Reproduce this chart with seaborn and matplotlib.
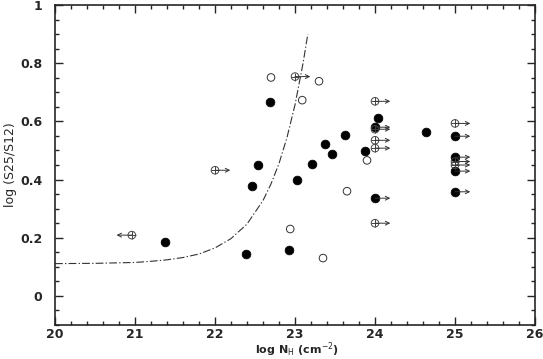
import numpy as np
import pandas as pd
from matplotlib import pyplot as plt
from matplotlib.ticker import MultipleLocator
import seaborn as sns

sns.set_style("ticks")
plt.rcParams['font.family'] = ['DejaVu Sans']

# detected sources (filled)
filled_x = [21.38, 22.39, 22.46, 22.54, 22.69, 22.93, 23.03, 23.21, 23.38, 23.46, 23.63, 23.88, 24.04, 24.64]
filled_y = [0.185, 0.144, 0.377, 0.450, 0.666, 0.158, 0.398, 0.453, 0.521, 0.487, 0.552, 0.497, 0.610, 0.563]

# filled, lower limits on N_H
filled_lim_x = [24.0, 24.0, 25.0, 25.0, 25.0, 25.0]
filled_lim_y = [0.580, 0.336, 0.549, 0.477, 0.429, 0.358]

# open circles
open_x = [22.70, 22.94, 23.09, 23.30, 23.35, 23.65, 23.90]
open_y = [0.751, 0.230, 0.673, 0.738, 0.130, 0.360, 0.466]

# crossed circles, lower limits
plus_x = [22.0, 23.0, 24.0, 24.0, 24.0, 24.0, 24.0, 25.0, 25.0, 25.0]
plus_y = [0.432, 0.754, 0.669, 0.573, 0.535, 0.508, 0.250, 0.593, 0.462, 0.450]

# crossed circle, upper limit
plus_up_x = [20.96]
plus_up_y = [0.209]

# model curve
curve_x = [20.0, 20.5, 21.0, 21.2, 21.4, 21.6, 21.8, 22.0, 22.2, 22.4, 22.6, 22.7, 22.8, 22.9, 23.0, 23.1, 23.16]
curve_y = [0.111, 0.112, 0.115, 0.119, 0.124, 0.132, 0.144, 0.165, 0.197, 0.247, 0.328, 0.385, 0.455, 0.545, 0.657, 0.799, 0.900]

fig = plt.figure(figsize=(5.43, 3.59), dpi=100)
ax = fig.add_axes([0.1013, 0.0947, 0.8840, 0.8913])

curve = pd.DataFrame({'x': curve_x, 'y': curve_y})
sns.lineplot(data=curve, x='x', y='y', ax=ax, color='#333333', lw=0.8,
             dashes=False, sort=False)
ax.lines[-1].set_dashes([7, 2, 1.2, 2])

fx = filled_x + filled_lim_x
fy = filled_y + filled_lim_y
sns.scatterplot(x=fx, y=fy, ax=ax, color='black', s=40, edgecolor='black', linewidth=0.5, zorder=3)

sns.scatterplot(x=open_x, y=open_y, ax=ax, facecolor='none', edgecolor='#333333', s=30, linewidth=0.7, zorder=3)

px = plus_x + plus_up_x
py = plus_y + plus_up_y
sns.scatterplot(x=px, y=py, ax=ax, facecolor='none', edgecolor='#444444', s=30, linewidth=0.7, zorder=3)
sns.scatterplot(x=px, y=py, ax=ax, color='#444444', marker='+', s=30, linewidth=0.7, zorder=3)

arr = dict(arrowstyle='<-', color='#333333', lw=0.7, shrinkA=0, shrinkB=0,
           mutation_scale=7)
for x, y in zip(plus_x + filled_lim_x, plus_y + filled_lim_y):
    ax.annotate('', xy=(x, y), xytext=(11, 0), textcoords='offset points',
                arrowprops=arr)
for x, y in zip(plus_up_x, plus_up_y):
    ax.annotate('', xy=(x, y), xytext=(-11, 0), textcoords='offset points',
                arrowprops=arr)

ax.set_xlim(20, 26)
ax.set_ylim(-0.1, 1.0)
ax.xaxis.set_major_locator(MultipleLocator(1))
ax.xaxis.set_minor_locator(MultipleLocator(0.2))
ax.yaxis.set_minor_locator(MultipleLocator(0.05))
ax.set_yticks([0, 0.2, 0.4, 0.6, 0.8, 1.0])
ax.set_yticklabels(['0', '0.2', '0.4', '0.6', '0.8', '1'])
ax.tick_params(which='both', direction='in', top=True, right=True,
               labelsize=9, width=1)
ax.tick_params(axis='x', pad=2.5)
ax.tick_params(axis='y', pad=9)
ax.tick_params(which='major', length=6)
ax.tick_params(which='minor', length=3)
for lab in ax.get_xticklabels() + ax.get_yticklabels():
    lab.set_fontweight('bold')
for s in ax.spines.values():
    s.set_linewidth(1.2)
    s.set_visible(True)

ax.set_xlabel(r'log N$_{\rm H}$ (cm$^{-2}$)', fontsize=8, fontweight='bold')
ax.xaxis.set_label_coords(0.505, -0.047)
ax.set_ylabel('log (S25/S12)', fontsize=9)
ax.yaxis.set_label_coords(-0.08, 0.5)

plt.savefig('out.png', dpi=100)
